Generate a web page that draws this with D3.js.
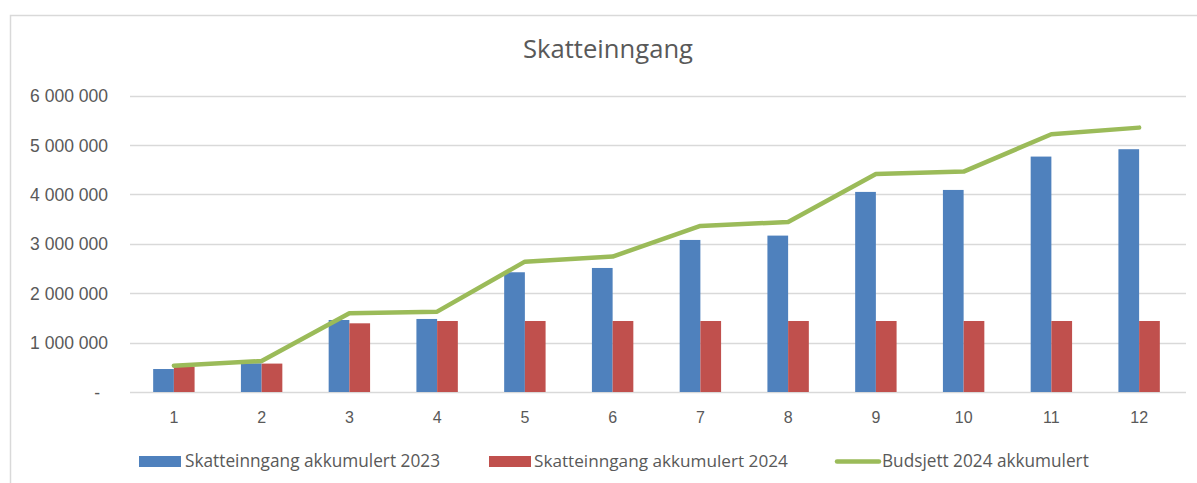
<!DOCTYPE html>
<html>
<head>
<meta charset="utf-8">
<script src="https://cdn.jsdelivr.net/npm/d3@7"></script>
<style>
  html, body { margin: 0; padding: 0; background: #fff; }
  svg { display: block; font-family: "Open Sans", sans-serif; }
</style>
</head>
<body>
<div id="chart"></div>
<script>
// Chart data
const months = ["1", "2", "3", "4", "5", "6", "7", "8", "9", "10", "11", "12"];
const akk2023 = [465000, 580000, 1457000, 1478000, 2423000, 2510000, 3077000, 3165000, 4049000, 4089000, 4764000, 4913000];
const akk2024 = [512000, 575000, 1390000, 1437000, 1437000, 1437000, 1437000, 1437000, 1437000, 1437000, 1437000, 1437000];
const budsjett2024 = [532000, 627000, 1593000, 1626000, 2638000, 2740000, 3360000, 3441000, 4413000, 4460000, 5216000, 5350000];
const yTicks = [0, 1000000, 2000000, 3000000, 4000000, 5000000, 6000000];

const seriesNames = ["Skatteinngang akkumulert 2023", "Skatteinngang akkumulert 2024", "Budsjett 2024 akkumulert"];
const colors = { blue: "#4F81BD", red: "#C0504D", green: "#9BBB59" };

const width = 1197, height = 483;
const plot = { left: 130, right: 1183, top: 95.5, bottom: 392 };

const svg = d3.select("#chart").append("svg")
    .attr("width", width)
    .attr("height", height);

// Outer chart border (only top and left visible in the crop)
svg.append("path")
    .attr("d", `M10.5,${height} V15.5 H${width}`)
    .attr("fill", "none")
    .attr("stroke", "#D9D9D9")
    .attr("stroke-width", 1.5);

// Scales
const x = d3.scaleBand()
    .domain(months)
    .range([plot.left, plot.right])
    .paddingInner(0.528)
    .paddingOuter(0.264);

const x1 = d3.scaleBand()
    .domain(["a", "b"])
    .range([0, x.bandwidth()]);

const y = d3.scaleLinear()
    .domain([0, 6000000])
    .range([plot.bottom, plot.top]);

const fmt = v => v === 0 ? "-" : d3.format(",")(v).replace(/,/g, " ");

// Gridlines
svg.append("g")
    .selectAll("line")
    .data(yTicks)
    .join("line")
    .attr("x1", plot.left)
    .attr("x2", 1186)
    .attr("y1", d => Math.round(y(d)) + 0.5)
    .attr("y2", d => Math.round(y(d)) + 0.5)
    .attr("stroke", "#D9D9D9")
    .attr("stroke-width", 1.5);

// Y axis labels
const yAxis = d3.axisLeft(y).tickValues(yTicks).tickFormat(fmt).tickSize(0).tickPadding(0);
const gy = svg.append("g")
    .attr("transform", `translate(108,0)`)
    .call(yAxis);
gy.select(".domain").remove();
const yLabels = gy.selectAll("text")
    .attr("fill", "#595959")
    .style("font-size", "14px")
    .attr("dy", "0.35em")
    .attr("x", d => d === 0 ? -8 : 0);
// size the labels so "6 000 000" is as wide as in the reference
const topLabel = yLabels.filter(d => d === 6000000);
fitWidth(topLabel, 78);
yLabels.style("font-size", topLabel.style("font-size"));

// X axis labels
const xAxis = d3.axisBottom(x).tickSize(0).tickPadding(0);
const gx = svg.append("g")
    .attr("transform", `translate(0,${plot.bottom})`)
    .call(xAxis);
gx.select(".domain").remove();
gx.selectAll("text")
    .attr("fill", "#595959")
    .style("font-size", "16px")
    .attr("dy", 0)
    .attr("y", 31);

// Bars
const groups = svg.append("g")
    .selectAll("g")
    .data(months)
    .join("g")
    .attr("transform", d => `translate(${x(d)},0)`);

groups.append("rect")
    .attr("x", x1("a"))
    .attr("width", x1.bandwidth())
    .attr("y", (d, i) => y(akk2023[i]))
    .attr("height", (d, i) => y(0) - y(akk2023[i]))
    .attr("fill", colors.blue);

groups.append("rect")
    .attr("x", x1("b"))
    .attr("width", x1.bandwidth())
    .attr("y", (d, i) => y(akk2024[i]))
    .attr("height", (d, i) => y(0) - y(akk2024[i]))
    .attr("fill", colors.red);

// Budget line
const line = d3.line()
    .x((d, i) => x(months[i]) + x.bandwidth() / 2)
    .y(d => y(d));

svg.append("path")
    .datum(budsjett2024)
    .attr("d", line)
    .attr("fill", "none")
    .attr("stroke", colors.green)
    .attr("stroke-width", 4.5)
    .attr("stroke-linejoin", "round")
    .attr("stroke-linecap", "round");

// Title
const title = svg.append("text")
    .attr("x", 608)
    .attr("y", 58)
    .attr("text-anchor", "middle")
    .attr("fill", "#595959")
    .style("font-size", "21px")
    .text("Skatteinngang");
fitWidth(title, 170);

// Legend
const legendItems = [
    { name: seriesNames[0], type: "rect", color: colors.blue, x0: 139, tx: 185, w: 255 },
    { name: seriesNames[1], type: "rect", color: colors.red, x0: 489, tx: 534, w: 254 },
    { name: seriesNames[2], type: "line", color: colors.green, x0: 835, tx: 882, w: 207 }
];

const legend = svg.append("g");
legendItems.forEach(item => {
    if (item.type === "rect") {
        legend.append("rect")
            .attr("x", item.x0)
            .attr("y", 456)
            .attr("width", 42)
            .attr("height", 11)
            .attr("fill", item.color);
    } else {
        legend.append("line")
            .attr("x1", item.x0 + 2)
            .attr("x2", item.x0 + 44)
            .attr("y1", 461.5)
            .attr("y2", 461.5)
            .attr("stroke", item.color)
            .attr("stroke-width", 4.5)
            .attr("stroke-linecap", "round");
    }
    const t = legend.append("text")
        .attr("x", item.tx)
        .attr("y", 467)
        .attr("fill", "#595959")
        .style("font-size", "16px")
        .text(item.name);
    fitWidth(t, item.w);
});

function fitWidth(sel, target) {
    const node = sel.node();
    const fs = parseFloat(sel.style("font-size"));
    const w = node.getComputedTextLength();
    if (w > 0) sel.style("font-size", (fs * target / w).toFixed(2) + "px");
}
</script>
</body>
</html>
